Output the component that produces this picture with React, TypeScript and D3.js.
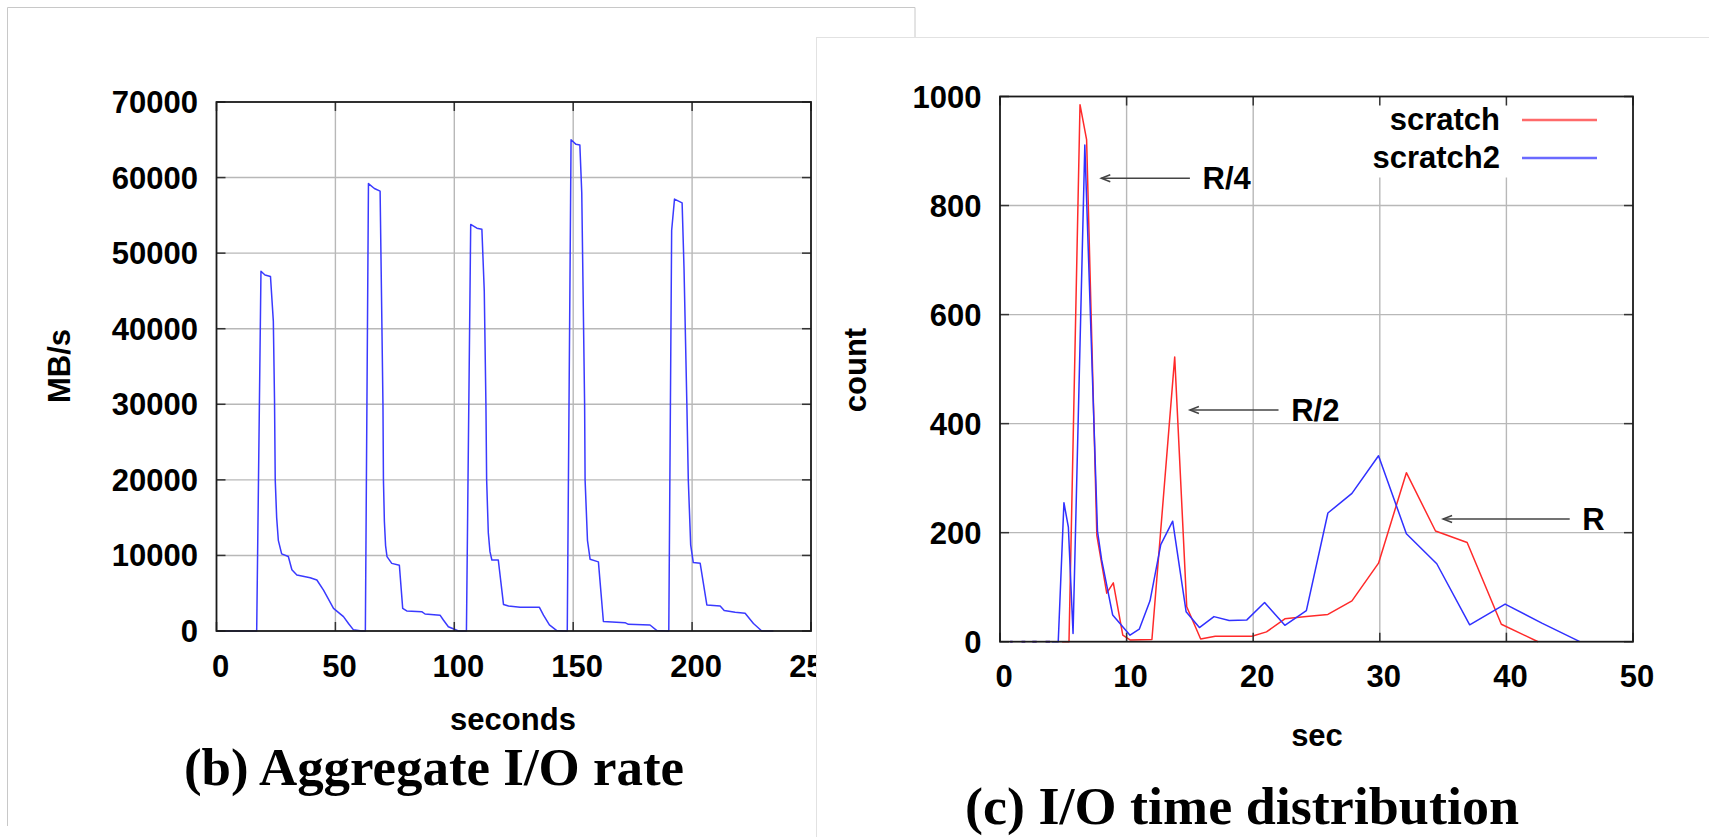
import * as d3 from "d3";

// (b) aggregate I/O rate, MB/s over seconds
const rateTicksX = [0, 50, 100, 150, 200, 250];
const rateTicksY = [0, 10000, 20000, 30000, 40000, 50000, 60000, 70000];
const aggregateRate: [number, number][] = [
  [0, 0], [16.9, 0], [18.7, 47600], [20.4, 47100], [22.7, 46900], [23.9, 41000],
  [24.4, 30500], [24.7, 20000], [25.3, 15000], [26.0, 12000], [27.4, 10200], [30.2, 9850],
  [31.7, 8100], [33.8, 7400], [39.4, 7050], [42.2, 6750], [45.0, 5400], [49.2, 3000],
  [53.4, 1900], [55.5, 1000], [57.6, 150], [61.1, 0],
  [62.6, 0], [63.9, 59200], [66.4, 58550], [68.8, 58200], [70.0, 30000], [70.2, 20000],
  [70.6, 14500], [71.1, 11300], [71.7, 9850], [73.7, 8950], [76.9, 8700], [78.3, 3000],
  [80.0, 2650], [86.3, 2550], [87.7, 2250], [94.0, 2100], [95.4, 1450], [97.5, 570],
  [100.3, 200], [101.7, 0],
  [105.1, 0], [106.9, 53800], [109.5, 53300], [111.6, 53150], [112.6, 45000], [113.3, 30000],
  [113.6, 20000], [114.3, 13000], [115.0, 10500], [115.8, 9400], [118.5, 9400], [120.7, 3500],
  [122.8, 3300], [127.7, 3130], [135.8, 3130], [137.5, 2100], [140.0, 800], [143.1, 50],
  [146.6, 0],
  [147.5, 0], [149.1, 65000], [151.2, 64400], [152.8, 64300], [153.6, 58000], [154.8, 30000],
  [155.0, 20000], [156.0, 12000], [157.1, 9500], [160.6, 9150], [162.7, 1250], [171.8, 1100],
  [173.2, 880], [182.3, 790], [185.2, 50], [189.4, 0],
  [190.2, 0], [191.4, 53000], [192.6, 57150], [195.8, 56650], [196.6, 48000], [197.8, 30000],
  [198.4, 20000], [199.4, 11400], [200.5, 9050], [203.4, 8950], [206.2, 3450], [211.8, 3300],
  [213.5, 2700], [218.1, 2470], [222.3, 2340], [225.8, 1000], [229.3, 0], [234.2, 0],
];

// (c) I/O time distribution, count over sec
const distTicksX = [0, 10, 20, 30, 40, 50];
const distTicksY = [0, 200, 400, 600, 800, 1000];
const scratch: [number, number][] = [
  [4.9, 0], [5.45, 0], [6.32, 985], [6.84, 921], [7.65, 195], [8.43, 89], [8.95, 108],
  [9.7, 12], [10.3, 3], [12.0, 4], [13.8, 522], [14.75, 64], [15.85, 5], [17.0, 10],
  [19.9, 10], [21.05, 18], [22.5, 42], [24.2, 46], [25.9, 50], [27.8, 75], [29.9, 144],
  [32.1, 310], [34.4, 203], [36.9, 182], [39.6, 32], [42.5, 0],
];
const scratch2: [number, number][] = [
  [4.1, 0], [4.6, 0], [5.05, 255], [5.4, 210], [5.77, 15], [6.7, 911], [7.7, 203],
  [8.03, 150], [8.9, 49], [10.27, 12], [11.0, 23], [11.85, 75], [12.7, 178], [13.64, 221],
  [14.7, 55], [15.75, 26], [16.9, 46], [18.1, 39], [19.5, 40], [20.9, 72], [22.5, 30],
  [24.2, 57], [25.9, 236], [27.8, 272], [29.9, 341], [32.1, 198], [34.5, 143], [37.1, 31],
  [39.9, 69], [42.8, 34], [45.8, 0],
];
// short zero runs where both series overlap near the origin
const zeroRuns: [number, number][] = [[0.8, 1.0], [1.7, 2.0], [2.55, 2.9], [3.6, 3.95]];
const arrows = [
  { label: "R/4", from: 15, to: 8, y: 850, labelX: 16 },
  { label: "R/2", from: 22, to: 15, y: 425, labelX: 23 },
  { label: "R", from: 45, to: 35, y: 225, labelX: 46 },
];
const legend = [
  { name: "scratch", color: "#ff6a6a" },
  { name: "scratch2", color: "#6a6aff" },
];

const SANS = "'Liberation Sans', Arial, Helvetica, sans-serif";
const SERIF = "'Liberation Serif', 'Times New Roman', serif";
const GRID = "#b8b8b8";

type Scale = d3.ScaleLinear<number, number>;

function Axes({ x, y, xTicks, yTicks }: { x: Scale; y: Scale; xTicks: number[]; yTicks: number[] }) {
  const [x0, x1] = x.range();
  const [y0, y1] = y.range();
  return (
    <g>
      {xTicks.map((t) => (
        <g key={"xt" + t}>
          <line x1={x(t)} x2={x(t)} y1={y0} y2={y0 - 9} stroke="#333" strokeWidth={1.5} />
          <line x1={x(t)} x2={x(t)} y1={y1} y2={y1 + 9} stroke="#333" strokeWidth={1.5} />
          <text x={x(t) + 4} y={y0 + 45.5} textAnchor="middle" fontSize={31} fontWeight="bold" fontFamily={SANS}>
            {t}
          </text>
        </g>
      ))}
      {yTicks.map((t) => (
        <g key={"yt" + t}>
          <line x1={x0} x2={x0 + 9} y1={y(t)} y2={y(t)} stroke="#333" strokeWidth={1.5} />
          <line x1={x1} x2={x1 - 9} y1={y(t)} y2={y(t)} stroke="#333" strokeWidth={1.5} />
          <text x={x0 - 18.5} y={y(t) + 11} textAnchor="end" fontSize={31} fontWeight="bold" fontFamily={SANS}>
            {t}
          </text>
        </g>
      ))}
      <rect x={x0} y={y1} width={x1 - x0} height={y0 - y1} fill="none" stroke="#1a1a1a" strokeWidth={1.8} />
    </g>
  );
}

function Grid({ x, y, xTicks, yTicks }: { x: Scale; y: Scale; xTicks: number[]; yTicks: number[] }) {
  const [x0, x1] = x.range();
  const [y0, y1] = y.range();
  return (
    <g>
      {xTicks.slice(1, -1).map((t) => (
        <line key={"gx" + t} x1={x(t)} x2={x(t)} y1={y0} y2={y1} stroke={GRID} strokeWidth={1.4} />
      ))}
      {yTicks.slice(1, -1).map((t) => (
        <line key={"gy" + t} x1={x0} x2={x1} y1={y(t)} y2={y(t)} stroke={GRID} strokeWidth={1.4} />
      ))}
    </g>
  );
}

export default function App() {
  // left chart
  const rx = d3.scaleLinear().domain([0, 250]).range([216.5, 811]);
  const ry = d3.scaleLinear().domain([0, 70000]).range([631, 102]);
  const rateLine = d3.line<[number, number]>().x((d) => rx(d[0])).y((d) => ry(d[1]));

  // right chart
  const dx = d3.scaleLinear().domain([0, 50]).range([1000, 1633]);
  const dy = d3.scaleLinear().domain([0, 1000]).range([641.7, 96.5]);
  const distLine = d3.line<[number, number]>().x((d) => dx(d[0])).y((d) => dy(d[1]));

  const legendRight = dx(50);

  return (
    <svg
      width={1709}
      height={837}
      style={{ position: "absolute", left: 0, top: 0, display: "block", background: "#fff" }}
    >
      {/* left panel */}
      <path d="M7.5,826 V7.5 H915 V40" fill="none" stroke="#c8c8c8" strokeWidth={1} />
      <Grid x={rx} y={ry} xTicks={rateTicksX} yTicks={rateTicksY} />
      <path d={rateLine(aggregateRate) ?? ""} fill="none" stroke="#3a3aff" strokeWidth={1.5} strokeLinejoin="round" />
      <Axes x={rx} y={ry} xTicks={rateTicksX} yTicks={rateTicksY} />
      <text transform="translate(70,366) rotate(-90)" textAnchor="middle" fontSize={31} fontWeight="bold" fontFamily={SANS}>
        MB/s
      </text>
      <text x={513} y={730} textAnchor="middle" fontSize={31} fontWeight="bold" fontFamily={SANS}>
        seconds
      </text>
      <text x={434} y={785} textAnchor="middle" fontSize={52} fontWeight="bold" fontFamily={SERIF}
        textLength={500} lengthAdjust="spacingAndGlyphs">
        (b) Aggregate I/O rate
      </text>

      {/* right panel */}
      <rect x={816.5} y={37.5} width={1000} height={900} fill="#fff" stroke="#e2e2e2" strokeWidth={1} />
      <Grid x={dx} y={dy} xTicks={distTicksX} yTicks={distTicksY} />
      <rect x={1366} y={dy(1000) + 1} width={legendRight - 1367} height={80} fill="#fff" />
      {legend.map((l, i) => (
        <g key={l.name}>
          <text x={legendRight - 133} y={120 + i * 38 + 10} textAnchor="end" fontSize={31} fontWeight="bold" fontFamily={SANS}>
            {l.name}
          </text>
          <line x1={legendRight - 111} x2={legendRight - 36} y1={120 + i * 38} y2={120 + i * 38} stroke={l.color} strokeWidth={2.6} />
        </g>
      ))}
      {zeroRuns.map((r, i) => (
        <line key={"z" + i} x1={dx(r[0])} x2={dx(r[1])} y1={dy(0)} y2={dy(0)} stroke="#5a2ad0" strokeWidth={2} />
      ))}
      <path d={distLine(scratch) ?? ""} fill="none" stroke="#ff2a2a" strokeWidth={1.5} strokeLinejoin="round" />
      <path d={distLine(scratch2) ?? ""} fill="none" stroke="#3030ff" strokeWidth={1.5} strokeLinejoin="round" />
      {arrows.map((a) => {
        const tip = dx(a.to);
        const yy = dy(a.y);
        return (
          <g key={a.label}>
            <line x1={dx(a.from)} x2={tip} y1={yy} y2={yy} stroke="#444" strokeWidth={1.5} />
            <path d={`M${tip + 9},${yy - 3.5} L${tip},${yy} L${tip + 9},${yy + 3.5}`} fill="none" stroke="#444" strokeWidth={1.5} />
            <text x={dx(a.labelX)} y={yy + 11} fontSize={31} fontWeight="bold" fontFamily={SANS}>
              {a.label}
            </text>
          </g>
        );
      })}
      <Axes x={dx} y={dy} xTicks={distTicksX} yTicks={distTicksY} />
      <text transform="translate(866,370) rotate(-90)" textAnchor="middle" fontSize={31} fontWeight="bold" fontFamily={SANS}>
        count
      </text>
      <text x={1317} y={746} textAnchor="middle" fontSize={31} fontWeight="bold" fontFamily={SANS}>
        sec
      </text>
      <text x={1242} y={824} textAnchor="middle" fontSize={52} fontWeight="bold" fontFamily={SERIF}
        textLength={554} lengthAdjust="spacingAndGlyphs">
        (c) I/O time distribution
      </text>
    </svg>
  );
}
